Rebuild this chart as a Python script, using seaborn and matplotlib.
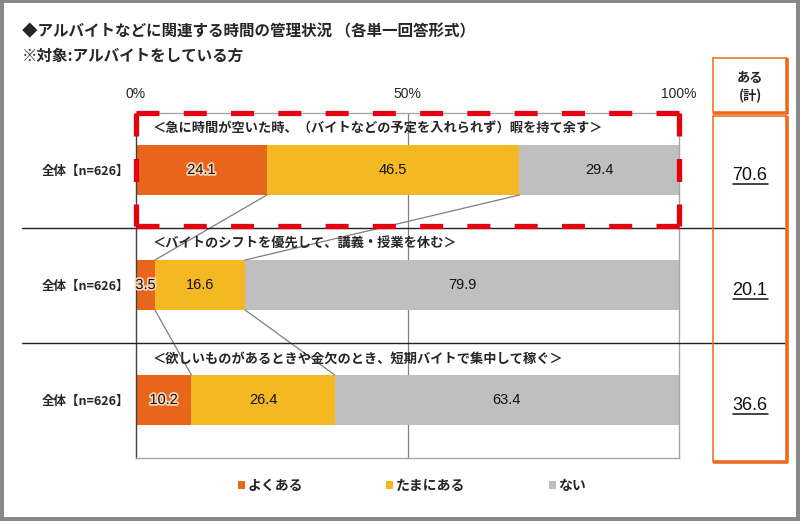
import matplotlib
matplotlib.use("Agg")
import matplotlib.pyplot as plt
from matplotlib.lines import Line2D
from matplotlib.patches import Rectangle
import matplotlib.patheffects as pe
import matplotlib.transforms as mtransforms
import seaborn as sns
import pandas as pd
import numpy as np

# ---------------- data ----------------
items = ["＜急に時間が空いた時、（バイトなどの予定を入れられず）暇を持て余す＞",
         "＜バイトのシフトを優先して、講義・授業を休む＞",
         "＜欲しいものがあるときや金欠のとき、短期バイトで集中して稼ぐ＞"]
row_labels = ["全体【n=626】", "全体【n=626】", "全体【n=626】"]
often = [24.1, 3.5, 10.2]
sometimes = [46.5, 16.6, 26.4]
never = [29.4, 79.9, 63.4]
aru_total = [70.6, 20.1, 36.6]
series_names = ["よくある", "たまにある", "ない"]
xtick_vals = [0, 50, 100]
xtick_labels = ["0%", "50%", "100%"]
title1 = "◆アルバイトなどに関連する時間の管理状況 （各単一回答形式）"
title2 = "※対象:アルバイトをしている方"
box_header = "ある\n(計)"

# ---------------- style ----------------
sns.set_style("white")
JP = ["Noto Sans CJK JP", "DejaVu Sans"]
NUM = ["Liberation Sans Narrow", "Liberation Sans", "DejaVu Sans"]
plt.rcParams["font.family"] = JP
plt.rcParams["lines.scale_dashes"] = False

C_OFTEN = "#E8661C"
C_SOME = "#F4B822"
C_NEVER = "#BFBFBF"
C_BOX = "#EB6A1E"

W, H = 800, 521
fig = plt.figure(figsize=(W / 100, H / 100), dpi=100)
fig.patch.set_facecolor("white")
ax = fig.add_axes([136 / W, 1 - 457.5 / H, (679 - 136) / W, (457.5 - 112.5) / H])

df = pd.DataFrame({"row": [f"r{i}" for i in range(3)],
                   "often": often, "sometimes": sometimes, "never": never})
df["c1"] = df["often"]
df["c2"] = df["often"] + df["sometimes"]
df["c3"] = df["c2"] + df["never"]

BW = 0.435
sns.barplot(data=df, x="c3", y="row", orient="h", color=C_NEVER, width=BW,
            linewidth=0, saturation=1, ax=ax, label=series_names[2], zorder=2)
sns.barplot(data=df, x="c2", y="row", orient="h", color=C_SOME, width=BW,
            linewidth=0, saturation=1, ax=ax, label=series_names[1], zorder=2)
sns.barplot(data=df, x="c1", y="row", orient="h", color=C_OFTEN, width=BW,
            linewidth=0, saturation=1, ax=ax, label=series_names[0], zorder=2)

ax.set_xlim(0, 100)
ax.set_ylim(2.5, -0.5)
ax.set_xlabel("")
ax.set_ylabel("")

# ticks
ax.xaxis.tick_top()
ax.set_xticks(xtick_vals)
ax.set_xticklabels(xtick_labels, fontfamily=NUM, fontsize=10)
ax.tick_params(axis="x", length=0, pad=8)
ax.set_yticks(range(3))
ax.set_yticklabels(row_labels, fontsize=9, fontweight="bold")
ax.tick_params(axis="y", length=0, pad=5)

for s in ["top", "right", "bottom"]:
    ax.spines[s].set_color("#A6A6A6")
    ax.spines[s].set_linewidth(1.0)
ax.spines["left"].set_color("#404040")
ax.spines["left"].set_linewidth(1.0)
ax.axvline(50, color="#808080", lw=0.9, zorder=1)

# value labels
for i in range(3):
    starts = [0, df["c1"][i], df["c2"][i]]
    vals = [often[i], sometimes[i], never[i]]
    for k, (s0, v) in enumerate(zip(starts, vals)):
        eff = [pe.withStroke(linewidth=2.5, foreground="#F7D2B4")] if k == 0 else None
        ax.text(s0 + v / 2, i, f"{v:.1f}", ha="center", va="center",
                fontsize=10.5, fontfamily=NUM, color="#111111",
                path_effects=eff, zorder=5)
    # item subtitle
    ax.text(3.0, i - 0.36, items[i], ha="left", va="center",
            fontsize=9.5, fontweight="bold", zorder=5)

# connector lines
for i in range(2):
    for key in ["c1", "c2"]:
        ax.plot([df[key][i], df[key][i + 1]], [i + BW / 2, i + 1 - BW / 2],
                color="#7F7F7F", lw=0.9, zorder=3)

# red dashed highlight around first row
dash_pt = 23 * 0.72
lw_red = 3.8
def dashed_side(x0, y0, x1, y1, length_px, n):
    gap = (length_px - n * 23) / (n - 1) * 0.72
    ax.plot([x0, x1], [y0, y1], color="#E50012", lw=lw_red,
            linestyle=(0, (dash_pt, gap)), clip_on=False, zorder=6,
            solid_capstyle="butt", dash_capstyle="butt")
dashed_side(0, -0.5, 100, -0.5, 543, 12)
dashed_side(0, 0.49, 100, 0.49, 543, 12)
dashed_side(0, -0.5, 0, 0.49, 114, 3)
dashed_side(100, -0.5, 100, 0.49, 114, 3)

# separators across the whole chart
bt = mtransforms.blended_transform_factory(fig.transFigure, ax.transData)
for yv in [0.5, 1.5]:
    ax.add_artist(Line2D([22 / W, 785 / W], [yv, yv], transform=bt,
                         color="#222222", lw=1.0, clip_on=False, zorder=4))

# right "ある(計)" box
def fl(x0, y0, x1, y1, **kw):
    fig.add_artist(Line2D([x0 / W, x1 / W], [1 - y0 / H, 1 - y1 / H], **kw))

def box(x0, y0, x1, y1):
    fl(x0, y0, x1, y0, color=C_BOX, lw=1.1)
    fl(x0, y0, x0, y1, color=C_BOX, lw=1.1)
    fl(x1, y0 - 0.5, x1, y1 + 1.2, color=C_BOX, lw=2.6, solid_capstyle="butt")
    fl(x0 - 0.5, y1, x1 + 1.2, y1, color=C_BOX, lw=2.6, solid_capstyle="butt")

box(713, 58, 786.5, 112.5)
box(713, 116, 786.5, 461.5)
fig.text(750 / W, 1 - 87 / H, box_header, ha="center", va="center",
         fontsize=9.5, fontweight="bold", linespacing=1.35)
for i, v in enumerate(aru_total):
    ax.text(750 / W, i + 0.052, f"{v:.1f}", transform=bt, ha="center",
            va="center", fontsize=13, fontfamily=NUM, color="#111111",
            clip_on=False)
    ax.add_artist(Line2D([733 / W, 768 / W], [i + 0.125, i + 0.125],
                         transform=bt, color="#111111", lw=1.1, clip_on=False))

# titles
fig.text(22 / W, 1 - 31 / H, title1, ha="left", va="center",
         fontsize=11.2, fontweight="bold")
fig.text(22 / W, 1 - 56 / H, title2, ha="left", va="center",
         fontsize=11.2, fontweight="bold")

# legend
h, l = ax.get_legend_handles_labels()
order = [l.index(n) for n in series_names]
leg = fig.legend([h[j] for j in order], [l[j] for j in order],
                 loc="center", bbox_to_anchor=(412 / W, 1 - 486 / H), ncol=3,
                 frameon=False, handlelength=0.5, handleheight=0.5,
                 handletextpad=0.2, columnspacing=6.0,
                 prop={"family": JP, "weight": "bold", "size": 10})
if ax.legend_ is not None:
    ax.legend_.remove()

# outer gray frame
for (x0, y0, w, hh) in [(0, 0, 4, H), (0, 0, W, 3), (796, 0, 4, H), (0, 517, W, 4)]:
    fig.add_artist(Rectangle((x0 / W, 1 - (y0 + hh) / H), w / W, hh / H,
                             transform=fig.transFigure, facecolor="#888888",
                             edgecolor="none", zorder=10))

fig.savefig("out.png", dpi=100)
